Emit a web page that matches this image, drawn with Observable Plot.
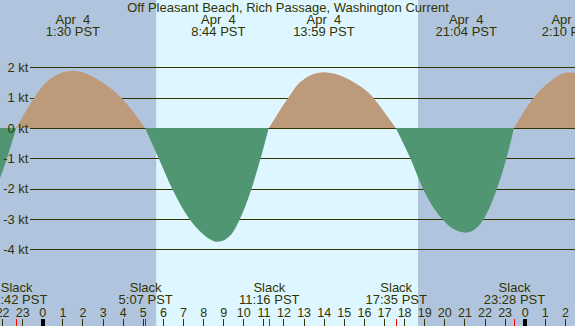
<!DOCTYPE html>
<html>
<head>
<meta charset="utf-8">
<script src="https://cdn.jsdelivr.net/npm/d3@7"></script>
<script src="https://cdn.jsdelivr.net/npm/@observablehq/plot@0.6"></script>
<style>
  html, body { margin: 0; padding: 0; background: #b0c4de; }
  svg text { white-space: pre; }
</style>
</head>
<body>
<div id="chart"></div>
<script>
// ---- data (hours relative to Apr 4 00:00 PST, speeds in knots) ----
const title = "Off Pleasant Beach, Rich Passage, Washington Current";
const curveHours = [-4.4, -2.14, -1.3, -0.4, 0.18, 1.5, 3.0, 3.92, 5.117, 5.79, 6.46, 7.32, 8.0, 8.733, 9.41, 9.83, 10.41, 10.86, 11.267, 12.24, 12.81, 13.983, 15.52, 16.47, 16.98, 17.583, 18.31, 18.94, 19.89, 20.5, 21.067, 21.6, 21.96, 22.62, 23.09, 23.467, 24.45, 25.2, 26.167, 27.2];
const curveSpeeds = [-3.5, -1.71, 0, 1, 1.5, 1.89, 1.5, 1, 0, -1, -2, -3, -3.5, -3.75, -3.5, -3, -2, -1, 0, 1, 1.5, 1.84, 1.5, 1, 0.55, 0, -1, -2, -3, -3.35, -3.45, -3.3, -3, -2, -1, 0, 1, 1.5, 1.84, 1.6];
const maxHours = [1.5, 8.733, 13.983, 21.067, 26.167];
const maxDates = ["Apr  4", "Apr  4", "Apr  4", "Apr  4", "Apr  5"];
const maxTimes = ["1:30 PST", "8:44 PST", "13:59 PST", "21:04 PST", "2:10 PST"];
const slackHours = [-1.3, 5.117, 11.267, 17.583, 23.467];
const slackTimes = ["22:42 PST", "5:07 PST", "11:16 PST", "17:35 PST", "23:28 PST"];
const sunTimes = [5.667, 18.7]; // sunrise, sunset
const hourTicks = d3.range(-2, 27);
const midnightTicks = [0, 24];
const speedTicks = [2, 1, 0, -1, -2, -3, -4];

// ---- layout ----
const W = 575, H = 326;
const xDomain = [-2.104, 26.502];
const yDomain = [-6.528, 4.220];
const ink = "#333300";
const nightColor = "#b0c4de", dayColor = "#ddf6ff";
const floodColor = "#bd9b7a", ebbColor = "#509673";

// split the curve into lobes at slack (zero) points
const pts = [];
let lobe = 0;
curveHours.forEach((h, i) => {
  const v = curveSpeeds[i];
  pts.push({h, v, lobe});
  if (v === 0) { lobe++; pts.push({h, v, lobe}); }
});
const lobeDir = {};
for (const p of pts) if (p.v !== 0) lobeDir[p.lobe] = p.v > 0 ? "flood" : "ebb";
pts.forEach(p => p.dir = lobeDir[p.lobe]);

const bands = [
  {x1: xDomain[0], x2: sunTimes[0], fill: nightColor},
  {x1: sunTimes[0], x2: sunTimes[1], fill: dayColor},
  {x1: sunTimes[1], x2: xDomain[1], fill: nightColor}
];

const font = "Liberation Sans, Arial, sans-serif";
const txt = {fill: ink, lineAnchor: "middle"};

const chart = Plot.plot({
  width: W, height: H,
  marginTop: 0, marginBottom: 0, marginLeft: 0, marginRight: 0,
  x: {domain: xDomain, axis: null},
  y: {domain: yDomain, axis: null},
  color: {domain: ["flood", "ebb"], range: [floodColor, ebbColor]},
  style: {fontFamily: font, color: ink, background: nightColor, overflow: "hidden"},
  marks: [
    Plot.rect(bands, {x1: "x1", x2: "x2", fill: "fill"}),
    Plot.ruleY(speedTicks, {insetLeft: 30, stroke: ink, strokeWidth: 1, shapeRendering: "crispEdges"}),
    Plot.areaY(pts, {x: "h", y1: 0, y2: "v", z: "lobe", fill: "dir", curve: "monotone-x", clip: true}),
    Plot.text(speedTicks, {...txt, y: d => d, frameAnchor: "left", dx: 28, textAnchor: "end", text: d => `${d} kt`, fontSize: 13}),
    // title and max-current labels
    Plot.text([title], {...txt, frameAnchor: "top", dy: 7.8, text: d => d, fontSize: 13}),
    Plot.text(maxHours, {...txt, x: d => d, frameAnchor: "top", dy: 19.8, text: (d, i) => maxDates[i], fontSize: 13}),
    Plot.text(maxHours, {...txt, x: d => d, frameAnchor: "top", dy: 31.8, text: (d, i) => maxTimes[i], fontSize: 13}),
    // slack labels
    Plot.text(slackHours, {...txt, x: d => d, frameAnchor: "bottom", dy: -38.2, text: () => "Slack", fontSize: 13}),
    Plot.text(slackHours, {...txt, x: d => d, frameAnchor: "bottom", dy: -26.3, text: (d, i) => slackTimes[i], fontSize: 13}),
    // hour labels and ticks
    Plot.text(hourTicks, {...txt, x: d => d, frameAnchor: "bottom", dy: -13.8, text: d => String(((d % 24) + 24) % 24), fontSize: 12.5}),
    Plot.tickX(hourTicks, {x: d => d, insetTop: 319, stroke: ink, strokeWidth: 1, shapeRendering: "crispEdges"}),
    Plot.tickX(midnightTicks, {x: d => d, insetTop: 319, stroke: "#000", strokeWidth: 4, shapeRendering: "crispEdges"}),
    Plot.tickX(slackHours, {x: d => d, insetTop: 319, stroke: "#ff0000", strokeWidth: 1, shapeRendering: "crispEdges"})
  ]
});
document.getElementById("chart").appendChild(chart);
</script>
</body>
</html>
